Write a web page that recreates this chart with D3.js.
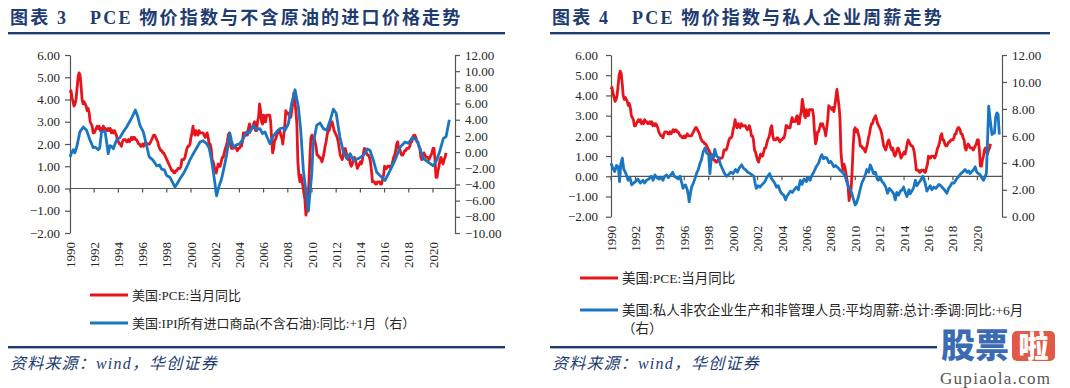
<!DOCTYPE html>
<html><head><meta charset="utf-8">
<script src="https://cdn.jsdelivr.net/npm/d3@7"></script>
<style>
html,body{margin:0;padding:0;background:#fff;}
svg{display:block;}
</style></head><body>
<svg id="c" width="1070" height="388"></svg>
<script>
// ---------------- DATA ----------------
const xTickYears = [1990,1992,1994,1996,1998,2000,2002,2004,2006,2008,2010,2012,2014,2016,2018,2020];
const leftAxisTicks = [6,5,4,3,2,1,0,-1,-2];
const chart3RightTicks = [12,10,8,6,4,2,0,-2,-4,-6,-8,-10];
const chart4RightTicks = [12,10,8,6,4,2,0];

const chart3Title = ["图表 3", "PCE 物价指数与不含原油的进口价格走势"];
const chart4Title = ["图表 4", "PCE 物价指数与私人企业周薪走势"];
const pceLabel = "美国:PCE:当月同比";
const ipiLabel = "美国:IPI所有进口商品(不含石油):同比:+1月（右）";
const wageLabel1 = "美国:私人非农企业生产和非管理人员:平均周薪:总计:季调:同比:+6月";
const wageLabel2 = "（右）";
const sourceText = "资料来源：wind，华创证券";

// US PCE price index, YoY %, monthly from Jan 1990
const pceStartYear = 1990;
const pceMonthly = [
 4.3,4.4,4.1,3.9,3.7,3.8,4.0,4.5,5.0,5.2,5.1,4.6,
 4.0,3.8,3.9,3.8,3.7,3.5,3.6,3.4,3.0,2.9,2.8,2.5,
 2.5,2.6,2.7,2.8,2.7,2.8,2.6,2.7,2.6,2.8,2.7,2.7,
 2.6,2.6,2.7,2.6,2.7,2.5,2.6,2.5,2.6,2.5,2.4,2.2,
 2.1,2.0,2.0,1.9,2.1,2.2,2.2,2.2,2.1,2.1,2.2,2.1,
 2.2,2.3,2.2,2.3,2.3,2.2,2.2,2.1,2.0,2.0,1.9,1.9,
 2.0,1.9,2.0,2.1,2.0,2.0,2.0,2.0,2.1,2.2,2.3,2.4,
 2.4,2.3,2.2,2.1,1.9,1.8,1.7,1.7,1.6,1.6,1.5,1.4,
 1.3,1.2,1.1,1.0,0.9,0.8,0.8,0.7,0.7,0.8,0.8,0.9,
 0.9,0.9,1.0,1.3,1.3,1.3,1.4,1.6,1.8,1.9,1.9,2.0,
 2.3,2.5,2.8,2.5,2.4,2.6,2.5,2.4,2.6,2.5,2.5,2.5,
 2.5,2.4,2.3,2.4,2.5,2.3,2.0,2.0,1.8,1.3,1.2,1.0,
 0.8,0.7,0.9,1.1,1.0,1.0,1.2,1.4,1.4,1.6,1.8,1.9,
 2.1,2.4,2.5,2.0,1.8,1.8,1.8,1.9,1.9,1.8,1.7,1.8,
 1.8,1.9,1.9,2.1,2.5,2.5,2.4,2.4,2.4,2.7,2.9,2.7,
 2.7,2.7,2.9,3.0,2.6,2.6,3.0,3.2,3.8,3.5,3.0,2.9,
 3.3,3.0,3.0,3.3,3.3,3.3,3.3,3.0,2.2,1.6,1.8,2.2,
 2.2,2.4,2.6,2.5,2.6,2.4,2.3,2.0,2.4,2.8,3.5,3.4,
 3.4,3.3,3.4,3.2,3.5,3.9,4.3,3.9,3.5,2.9,1.2,0.6,
 0.3,0.6,0.4,0.1,-0.2,-0.5,-1.2,-0.9,-0.6,0.3,1.5,2.3,
 2.4,2.2,2.3,2.1,1.9,1.5,1.5,1.4,1.4,1.3,1.2,1.4,
 1.6,1.9,2.1,2.4,2.6,2.6,2.8,2.9,3.0,2.8,2.6,2.5,
 2.4,2.3,2.1,1.8,1.5,1.4,1.3,1.5,1.7,1.8,1.6,1.4,
 1.3,1.4,1.1,1.0,1.1,1.3,1.4,1.3,1.1,0.9,1.0,1.1,
 1.2,1.1,1.3,1.6,1.8,1.7,1.6,1.5,1.5,1.4,1.2,0.8,
 0.3,0.3,0.3,0.2,0.2,0.3,0.3,0.3,0.2,0.2,0.4,0.6,
 1.0,0.9,0.9,1.0,1.0,1.0,0.9,1.0,1.2,1.4,1.5,1.7,
 2.0,2.1,1.8,1.8,1.6,1.5,1.5,1.6,1.7,1.7,1.8,1.8,
 1.8,1.9,2.1,2.1,2.3,2.4,2.4,2.3,2.1,2.1,1.9,1.8,
 1.4,1.3,1.5,1.6,1.5,1.4,1.4,1.4,1.3,1.4,1.5,1.6,
 1.8,1.8,1.3,0.5,0.5,0.8,1.0,1.3,1.4,1.2,1.1,1.3,
 1.4,1.6
];

// US import price index, all imports ex petroleum, YoY %, shifted +1 month: [year, value]
const ipiExOil = [
 [1990.0,-0.6],[1990.1,-0.2],[1990.27,0.3],[1990.4,-0.1],[1990.55,0.6],[1990.82,2.5],[1991.1,3.1],[1991.37,2.7],
 [1991.65,1.5],[1991.92,0.55],[1992.1,0.6],[1992.34,0.3],[1992.45,0.5],[1992.61,2.5],[1992.89,2.6],[1993.05,1.0],
 [1993.16,-0.2],[1993.3,0.8],[1993.45,0.7],[1993.58,0.4],[1993.85,1.5],[1994.13,1.8],[1994.4,2.5],[1994.68,3.1],
 [1995.09,4.2],[1995.25,4.7],[1995.4,5.2],[1995.6,4.4],[1995.78,3.3],[1996.06,2.5],[1996.3,1.0],[1996.55,-0.6],
 [1996.8,-0.9],[1997.0,-1.3],[1997.16,-1.7],[1997.4,-1.6],[1997.57,-2.1],[1997.8,-2.2],[1997.99,-2.9],[1998.25,-3.1],
 [1998.5,-3.8],[1998.67,-4.3],[1998.9,-3.8],[1999.09,-3.3],[1999.4,-2.6],[1999.64,-1.9],[1999.9,-1.0],[2000.19,-0.2],
 [2000.5,0.6],[2000.74,1.25],[2001.0,1.4],[2001.29,1.05],[2001.5,0.5],[2001.7,-1.0],[2001.9,-3.0],[2002.12,-5.4],
 [2002.3,-4.3],[2002.53,-3.3],[2002.75,-1.8],[2002.94,-0.4],[2003.1,1.2],[2003.22,2.3],[2003.35,1.4],[2003.5,0.6],
 [2003.75,0.9],[2004.05,1.05],[2004.3,1.6],[2004.6,2.5],[2004.85,2.4],[2005.15,3.3],[2005.4,2.8],[2005.7,2.9],
 [2005.9,2.3],[2006.11,2.5],[2006.3,1.8],[2006.53,1.05],[2006.8,2.0],[2007.08,2.5],[2007.36,2.9],[2007.63,3.0],
 [2007.77,2.7],[2008.05,3.5],[2008.32,6.0],[2008.6,7.7],[2008.87,5.6],[2009.07,2.7],[2009.29,-2.3],[2009.7,-7.3],
 [2009.98,-2.7],[2010.1,1.05],[2010.39,3.3],[2010.67,3.6],[2010.94,2.9],[2011.22,2.7],[2011.5,3.9],[2011.77,5.3],
 [2012.0,4.8],[2012.3,1.9],[2012.6,0.0],[2012.87,-0.8],[2013.15,-0.2],[2013.42,-1.0],[2013.83,-0.8],[2014.25,-0.4],
 [2014.58,0.4],[2014.8,0.2],[2015.07,-1.0],[2015.35,-2.5],[2015.76,-3.1],[2016.04,-3.5],[2016.45,-2.3],[2016.86,-1.0],
 [2017.28,0.6],[2017.69,1.25],[2017.97,1.1],[2018.3,1.8],[2018.65,1.5],[2018.93,0.4],[2019.2,-0.8],[2019.6,-1.25],
 [2020.03,-1.7],[2020.3,-1.0],[2020.58,0.2],[2020.86,1.7],[2021.08,1.9],[2021.35,4.0]
];

// US private nonfarm production & nonsupervisory avg weekly earnings, YoY %, shifted +6 months: [year, value]
const weeklyEarnings = [
 [1990.0,3.97],[1990.15,3.6],[1990.3,3.35],[1990.45,3.8],[1990.6,3.7],[1990.7,2.6],[1990.8,3.9],[1990.93,4.35],
 [1991.05,3.5],[1991.15,3.35],[1991.3,3.0],[1991.4,2.7],[1991.55,2.9],[1991.7,2.36],[1991.85,2.5],[1992.0,2.6],
 [1992.2,2.8],[1992.4,2.5],[1992.6,2.7],[1992.75,2.5],[1992.9,2.7],[1993.1,2.8],[1993.3,3.0],[1993.45,2.7],
 [1993.6,3.1],[1993.75,2.9],[1993.9,2.8],[1994.1,2.9],[1994.25,2.7],[1994.4,3.0],[1994.55,3.1],[1994.7,2.9],
 [1994.9,3.1],[1995.05,3.3],[1995.2,3.0],[1995.35,2.9],[1995.5,2.8],[1995.65,3.0],[1995.8,2.5],[1995.9,2.1],
 [1996.0,2.3],[1996.1,2.36],[1996.25,2.0],[1996.35,1.5],[1996.4,1.1],[1996.5,1.7],[1996.6,2.2],[1996.75,2.5],
 [1996.9,2.9],[1997.0,3.2],[1997.15,3.5],[1997.3,4.0],[1997.4,4.2],[1997.55,4.8],[1997.7,5.1],[1997.85,4.7],
 [1998.0,4.6],[1998.1,3.2],[1998.2,4.2],[1998.3,4.6],[1998.4,4.4],[1998.5,5.0],[1998.65,4.5],[1998.8,4.4],
 [1998.95,3.9],[1999.1,3.6],[1999.3,3.2],[1999.45,3.0],[1999.6,3.1],[1999.8,3.3],[2000.0,3.2],[2000.2,3.5],
 [2000.35,3.3],[2000.5,3.6],[2000.7,3.85],[2000.85,3.6],[2001.0,3.5],[2001.2,3.3],[2001.4,3.2],[2001.55,3.1],
 [2001.7,3.0],[2001.8,2.5],[2001.9,2.1],[2002.05,2.3],[2002.2,2.2],[2002.35,2.36],[2002.5,2.5],[2002.6,2.6],
 [2002.75,2.9],[2003.0,3.2],[2003.1,2.9],[2003.25,2.7],[2003.4,2.5],[2003.55,2.2],[2003.7,2.3],[2003.85,1.9],
 [2004.0,1.7],[2004.15,1.6],[2004.3,1.25],[2004.4,1.5],[2004.55,1.7],[2004.7,1.9],[2004.85,1.8],[2005.0,2.0],
 [2005.2,2.2],[2005.35,2.0],[2005.5,2.7],[2005.65,2.4],[2005.8,2.8],[2006.0,2.6],[2006.15,2.9],[2006.3,2.7],
 [2006.47,3.1],[2006.6,3.3],[2006.8,3.7],[2007.0,3.97],[2007.15,4.4],[2007.27,4.6],[2007.4,4.3],[2007.55,4.4],
 [2007.68,4.35],[2007.85,4.0],[2008.0,4.1],[2008.1,3.97],[2008.25,3.7],[2008.4,3.8],[2008.63,3.6],[2008.8,3.4],
 [2008.95,3.3],[2009.18,3.0],[2009.3,2.6],[2009.45,2.2],[2009.6,2.0],[2009.72,1.74],[2009.85,1.3],[2010.0,0.87],
 [2010.1,1.0],[2010.27,1.5],[2010.4,2.0],[2010.54,2.5],[2010.7,2.8],[2010.85,3.2],[2010.95,3.5],[2011.1,3.3],
 [2011.23,3.85],[2011.35,3.6],[2011.5,3.2],[2011.65,3.3],[2011.8,2.8],[2011.9,2.7],[2012.05,2.9],[2012.2,2.6],
 [2012.32,2.5],[2012.5,2.2],[2012.65,1.74],[2012.8,2.1],[2013.0,1.9],[2013.15,1.7],[2013.28,1.25],[2013.4,1.8],
 [2013.55,1.6],[2013.7,1.9],[2013.85,2.0],[2013.96,2.2],[2014.1,1.8],[2014.23,1.5],[2014.4,2.0],[2014.5,1.7],
 [2014.64,1.9],[2014.8,2.2],[2014.92,2.7],[2015.05,2.3],[2015.19,2.5],[2015.35,2.7],[2015.54,3.0],[2015.7,2.6],
 [2015.87,1.9],[2016.0,2.1],[2016.15,2.3],[2016.28,2.0],[2016.45,2.2],[2016.6,2.1],[2016.69,2.2],[2016.85,2.4],
 [2017.0,2.3],[2017.1,2.2],[2017.3,2.0],[2017.5,1.74],[2017.65,2.1],[2017.8,2.3],[2017.92,2.5],[2018.1,2.5],
 [2018.3,2.8],[2018.47,3.0],[2018.65,3.2],[2018.8,3.3],[2019.0,3.5],[2019.15,3.3],[2019.3,3.4],[2019.4,3.2],
 [2019.6,3.4],[2019.7,3.5],[2019.83,3.7],[2019.95,3.3],[2020.1,3.2],[2020.24,3.1],[2020.35,2.9],[2020.5,2.7],
 [2020.6,2.9],[2020.74,3.2],[2020.85,6.0],[2020.93,8.2],[2021.05,7.2],[2021.2,6.1],[2021.3,6.2],[2021.4,6.2],
 [2021.5,7.4],[2021.6,7.7],[2021.7,7.6],[2021.8,6.1]
];

// ---------------- DRAWING ----------------
const svg = d3.select('#c');
const NAVY = '#1d3c72';
const RED = '#e8141c', BLUE = '#1a76c2';
const AXIS = '#555555', TXT = '#262626';
const SERIF = '"Liberation Serif","Times New Roman",serif';
const MIXED = '"Liberation Serif","Noto Sans CJK SC",serif';
const pceSeries = pceMonthly.map((v, i) => [pceStartYear + i / 12, v]);

function drawChart(cfg) {
  const g = svg.append('g');
  const x = d3.scaleLinear().domain([1990, cfg.xEnd]).range([cfg.x0, cfg.x1]);
  const yL = d3.scaleLinear().domain([-2, 6]).range([cfg.yBot, cfg.yTop]);
  const yR = d3.scaleLinear().domain(cfg.rDomain).range([cfg.yBot, cfg.yTop]);

  // title
  const t = g.append('text').attr('y', 24).attr('fill', NAVY)
    .attr('font-family', MIXED).attr('font-weight', 'bold').attr('font-size', 18)
    .attr('letter-spacing', 2.2);
  t.append('tspan').attr('x', cfg.titleX).text(cfg.title[0]);
  t.append('tspan').attr('x', cfg.titleX + 80).text(cfg.title[1]);
  g.append('rect').attr('x', cfg.ruleX0).attr('y', 32).attr('width', cfg.ruleX1 - cfg.ruleX0).attr('height', 2.4).attr('fill', NAVY);

  // left axis
  const axL = g.append('g').attr('transform', `translate(${cfg.x0},0)`)
    .call(d3.axisLeft(yL).tickValues(leftAxisTicks).tickFormat(d3.format('.2f')).tickSize(5).tickSizeOuter(0).tickPadding(cfg.padL));
  // right axis
  const axR = g.append('g').attr('transform', `translate(${cfg.x1},0)`)
    .call(d3.axisRight(yR).tickValues(cfg.rTicks).tickFormat(d3.format('.2f')).tickSize(5).tickSizeOuter(0).tickPadding(cfg.padR));
  [axL, axR].forEach(a => {
    a.select('.domain').attr('stroke', AXIS).attr('stroke-width', 1.2);
    a.selectAll('.tick line').attr('stroke', AXIS).attr('stroke-width', 1.2);
    a.selectAll('.tick text').attr('fill', TXT).attr('font-family', SERIF).attr('font-size', 13);
  });

  // zero line with ticks
  const y0 = yL(0);
  g.append('line').attr('x1', cfg.x0).attr('x2', cfg.x1).attr('y1', y0).attr('y2', y0)
    .attr('stroke', AXIS).attr('stroke-width', 1.2);
  g.selectAll('.xt').data(xTickYears).enter().append('line')
    .attr('x1', d => x(d)).attr('x2', d => x(d)).attr('y1', y0).attr('y2', y0 + 4)
    .attr('stroke', AXIS).attr('stroke-width', 1.2);
  // rotated year labels at the bottom
  g.selectAll('.xl').data(xTickYears).enter().append('text')
    .attr('transform', d => `translate(${x(d)},${cfg.yBot + 9}) rotate(-90)`)
    .attr('text-anchor', 'end').attr('dy', '0.35em')
    .attr('font-family', SERIF).attr('font-size', 13).attr('fill', TXT)
    .text(d => d);

  // series
  const lineL = d3.line().x(d => x(d[0])).y(d => yL(d[1]));
  const lineR = d3.line().x(d => x(d[0])).y(d => yR(d[1]));
  g.append('path').datum(pceSeries).attr('d', lineL).attr('fill', 'none')
    .attr('stroke', RED).attr('stroke-width', 2.8).attr('stroke-linejoin', 'round');
  g.append('path').datum(cfg.rSeries).attr('d', lineR).attr('fill', 'none')
    .attr('stroke', BLUE).attr('stroke-width', 2.8).attr('stroke-linejoin', 'round');

  // legend
  const lg = g.append('g').attr('font-family', MIXED).attr('font-size', cfg.legFont).attr('fill', TXT);
  cfg.legend.forEach(item => {
    lg.append('line').attr('x1', cfg.legX).attr('x2', cfg.legX + 38).attr('y1', item.y).attr('y2', item.y)
      .attr('stroke', item.color).attr('stroke-width', 3);
    item.lines.forEach((s, k) => {
      lg.append('text').attr('x', cfg.legX + 42).attr('y', item.y + k * 18).attr('dy', '0.36em').text(s);
    });
  });

  // bottom rule + source
  g.append('rect').attr('x', cfg.ruleX0).attr('y', 346).attr('width', cfg.bottomRuleX1 - cfg.ruleX0).attr('height', 2.4).attr('fill', NAVY);
  g.append('text').attr('x', cfg.titleX).attr('y', 369).attr('fill', NAVY)
    .attr('font-family', MIXED).attr('font-style', 'italic').attr('font-size', 16).attr('letter-spacing', 1.2)
    .text(sourceText);
}

drawChart({
  title: chart3Title, titleX: 10, ruleX0: 8, ruleX1: 505, bottomRuleX1: 505,
  x0: 70, x1: 455, xEnd: 2021.82, yTop: 55, yBot: 233,
  rDomain: [-10, 12], rTicks: chart3RightTicks, rSeries: ipiExOil,
  padL: 5, padR: 5, legX: 90, legFont: 13,
  legend: [
    {y: 295, color: RED, lines: [pceLabel]},
    {y: 323, color: BLUE, lines: [ipiLabel]}
  ]
});

drawChart({
  title: chart4Title, titleX: 552, ruleX0: 550, ruleX1: 1050, bottomRuleX1: 937,
  x0: 611, x1: 1002, xEnd: 2022.02, yTop: 55, yBot: 216.7,
  rDomain: [0, 12], rTicks: chart4RightTicks, rSeries: weeklyEarnings,
  padL: 8, padR: 5, legX: 580, legFont: 13.5,
  legend: [
    {y: 278, color: RED, lines: [pceLabel]},
    {y: 310, color: BLUE, lines: [wageLabel1, wageLabel2]}
  ]
});

// watermark
const wm = svg.append('g');
wm.append('text').attr('x', 941).attr('y', 358).attr('font-family', '"Noto Sans CJK SC",sans-serif')
  .attr('font-weight', 900).attr('font-size', 34).attr('fill', '#3b6cb3').text('股票');
wm.append('rect').attr('x', 1012).attr('y', 331).attr('width', 43).attr('height', 30).attr('rx', 5).attr('fill', '#e15a49');
wm.append('text').attr('x', 1033.5).attr('y', 357).attr('text-anchor', 'middle').attr('font-family', '"Noto Sans CJK SC",sans-serif')
  .attr('font-weight', 900).attr('font-size', 30).attr('fill', '#fff').text('啦');
wm.append('text').attr('x', 940).attr('y', 384).attr('font-family', '"Liberation Serif",serif')
  .attr('font-size', 17).attr('fill', '#555').attr('textLength', 110).text('Gupiaola.com');
</script>
</body></html>
